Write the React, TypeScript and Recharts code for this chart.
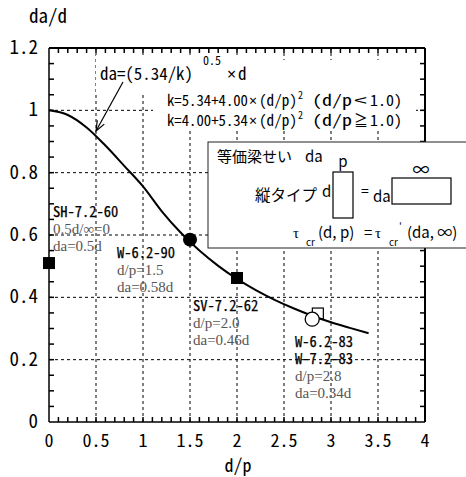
import React from 'react';
import { ComposedChart, Line, Scatter, XAxis, YAxis, ReferenceLine } from 'recharts';

// ---- data ----
const curveX = [0, 0.2, 0.4, 0.6, 0.8, 1.0, 1.2, 1.4, 1.6, 1.8, 2.0, 2.2, 2.4, 2.6, 2.8, 3.0, 3.2, 3.4];
const curveY = [1.0, 0.985, 0.945, 0.887, 0.822, 0.756, 0.676, 0.608, 0.55, 0.501, 0.459, 0.423, 0.392, 0.365, 0.341, 0.32, 0.302, 0.285];

const squareX = [0, 2.0];
const squareY = [0.51, 0.462];
const dotX = [1.5];
const dotY = [0.585];
const openSquareX = [2.86];
const openSquareY = [0.348];
const openCircleX = [2.8];
const openCircleY = [0.33];

const xMajor = [0, 0.5, 1, 1.5, 2, 2.5, 3, 3.5, 4];
const xLabels = ['0', '0.5', '1', '1.5', '2', '2.5', '3', '3.5', '4'];
const yMajor = [0, 0.2, 0.4, 0.6, 0.8, 1.0, 1.2];
const yLabels = ['0', '0.2', '0.4', '0.6', '0.8', '1', '1.2'];
const xGrid = [0.5, 1, 1.5, 2, 2.5, 3, 3.5];
const yGrid = [0.2, 0.4, 0.6, 0.8, 1.0];

// minor ticks every 0.1 on x, 0.05 on y
const xMinor: number[] = [];
for (let i = 1; i < 40; i++) xMinor.push(i / 10);
const yMinor: number[] = [];
for (let i = 1; i < 24; i++) yMinor.push(Math.round(i * 5) / 100);

const X_MIN = 0, X_MAX = 4, Y_MIN = 0, Y_MAX = 1.2;

const toPoints = (xs: number[], ys: number[]) => xs.map((x, i) => ({ x, y: ys[i] }));
const curveData = toPoints(curveX, curveY);
const bottomTicks = xMinor.map((x) => ({ x, y: Y_MIN }));
const topTicks = xMinor.map((x) => ({ x, y: Y_MAX }));
const leftTicks = yMinor.map((y) => ({ x: X_MIN, y }));
const rightTicks = yMinor.map((y) => ({ x: X_MAX, y }));

const GOTHIC = "'Noto Sans Mono CJK JP', 'Noto Sans CJK JP', 'DejaVu Sans Mono', monospace";
const PGOTHIC = "'Noto Sans CJK JP', 'Noto Sans', sans-serif";
const LATIN = "'Noto Sans', 'DejaVu Sans', sans-serif";
const MINCHO = "'Liberation Serif', 'DejaVu Serif', serif";

const near = (a: number, b: number) => Math.abs(a - b) < 1e-6;

const BottomTick = (p: any) => {
  const idx = xMajor.findIndex((m) => near(m, p.payload.value));
  if (idx < 0) return <g />;
  return (
    <text x={p.x} y={p.y + 25} textAnchor="middle" fontSize={18} fontFamily={GOTHIC} fill="#000">
      {xLabels[idx]}
    </text>
  );
};

const LeftTick = (p: any) => {
  const idx = yMajor.findIndex((m) => near(m, p.payload.value));
  if (idx < 0) return <g />;
  return (
    <text x={p.x - 11} y={p.y + 6} textAnchor="end" fontSize={19} fontFamily={GOTHIC} fill="#000">
      {yLabels[idx]}
    </text>
  );
};

// tick marks pointing into the plot
const TICK = 5;
const tickStyle = { stroke: '#000', strokeWidth: 1.5 };
const TickUp = (p: any) => <line x1={p.cx} y1={p.cy} x2={p.cx} y2={p.cy - TICK} {...tickStyle} />;
const TickDown = (p: any) => <line x1={p.cx} y1={p.cy} x2={p.cx} y2={p.cy + TICK} {...tickStyle} />;
const TickRight = (p: any) => <line x1={p.cx} y1={p.cy} x2={p.cx + TICK} y2={p.cy} {...tickStyle} />;
const TickLeft = (p: any) => <line x1={p.cx} y1={p.cy} x2={p.cx - TICK} y2={p.cy} {...tickStyle} />;

// a label block: specimen names in gothic, values in grey mincho
const LabelBlock = ({ x, y, gothic, mincho }: { x: number; y: number; gothic: string[]; mincho: string[] }) => (
  <text x={x} y={y}>
    {gothic.map((s, i) => (
      <tspan key={'g' + i} x={x} dy={i === 0 ? 0 : 17} fontSize={14.5} fontFamily={GOTHIC} fill="#000" stroke="#000" strokeWidth={0.25}>
        {s}
      </tspan>
    ))}
    {mincho.map((s, i) => (
      <tspan key={'m' + i} x={x} dy={i === 0 ? 16.5 : 17} fontSize={15} fontFamily={MINCHO} fill="#555">
        {s}
      </tspan>
    ))}
  </text>
);

const Overlay = () => (
  <svg width={466} height={477} style={{ position: 'absolute', left: 0, top: 0, pointerEvents: 'none' }}>
    {/* white backgrounds behind the formulas */}
    <rect x={96} y={55} width={156} height={37} fill="#fff" />
    <rect x={153} y={60} width={263} height={71} fill="#fff" />

    <text x={100} y={80} fontSize={17} fontFamily={GOTHIC} fill="#000" textLength={93} lengthAdjust="spacingAndGlyphs">da=(5.34/k)</text>
    <text x={203} y={65} fontSize={12} fontFamily={GOTHIC} fill="#000">0.5</text>
    <text x={227} y={80} fontSize={16} fontFamily={LATIN} fill="#000">×</text>
    <text x={238} y={80} fontSize={17} fontFamily={GOTHIC} fill="#000">d</text>

    <text x={167} y={106} fontSize={15} fontFamily={GOTHIC} fill="#000" textLength={81} lengthAdjust="spacingAndGlyphs">k=5.34+4.00</text>
    <text x={249} y={106} fontSize={14} fontFamily={LATIN} fill="#000">×</text>
    <text x={259} y={106} fontSize={15} fontFamily={GOTHIC} fill="#000" textLength={38} lengthAdjust="spacingAndGlyphs">(d/p)</text>
    <text x={298} y={99} fontSize={10} fontFamily={GOTHIC} fill="#000">2</text>
    <text x={312} y={106} fontSize={15} fontFamily={GOTHIC} fill="#000" textLength={40} lengthAdjust="spacingAndGlyphs">(d/p</text>
    <text x={354} y={106} fontSize={15} fontFamily={PGOTHIC} fill="#000" textLength={13} lengthAdjust="spacingAndGlyphs">&lt;</text>
    <text x={370} y={106} fontSize={15} fontFamily={GOTHIC} fill="#000" textLength={32} lengthAdjust="spacingAndGlyphs">1.0)</text>

    <text x={167} y={126} fontSize={15} fontFamily={GOTHIC} fill="#000" textLength={81} lengthAdjust="spacingAndGlyphs">k=4.00+5.34</text>
    <text x={249} y={126} fontSize={14} fontFamily={LATIN} fill="#000">×</text>
    <text x={259} y={126} fontSize={15} fontFamily={GOTHIC} fill="#000" textLength={38} lengthAdjust="spacingAndGlyphs">(d/p)</text>
    <text x={298} y={119} fontSize={10} fontFamily={GOTHIC} fill="#000">2</text>
    <text x={312} y={126} fontSize={15} fontFamily={GOTHIC} fill="#000" textLength={40} lengthAdjust="spacingAndGlyphs">(d/p</text>
    <text x={354} y={126} fontSize={15} fontFamily={PGOTHIC} fill="#000" textLength={14} lengthAdjust="spacingAndGlyphs">≧</text>
    <text x={370} y={126} fontSize={15} fontFamily={GOTHIC} fill="#000" textLength={32} lengthAdjust="spacingAndGlyphs">1.0)</text>

    {/* arrow to the curve */}
    <line x1={123} y1={82} x2={96} y2={131} stroke="#000" strokeWidth={1.2} />
    <polyline points="104.3,124.1 96,131 97.3,120.3" fill="none" stroke="#000" strokeWidth={1.2} />

    {/* equivalent depth box */}
    <rect x={208} y={142} width={262} height={106} fill="#fff" stroke="#222" strokeWidth={1} />
    <text x={217} y={162} fontSize={15} fontFamily={PGOTHIC} fill="#000">等価梁せい</text>
    <text x={305} y={162} fontSize={15} fontFamily={PGOTHIC} fill="#000">da</text>
    <text x={343} y={167} fontSize={15} fontFamily={PGOTHIC} fill="#000" textAnchor="middle">p</text>
    <rect x={333} y={172} width={20} height={46} fill="none" stroke="#000" strokeWidth={1.2} />
    <text x={255} y={201} fontSize={15.5} fontFamily={PGOTHIC} fill="#000">縦タイプ</text>
    <text x={322} y={197} fontSize={15} fontFamily={PGOTHIC} fill="#000">d</text>
    <text x={361} y={196} fontSize={14} fontFamily={PGOTHIC} fill="#000">=</text>
    <text x={373} y={202} fontSize={15} fontFamily={PGOTHIC} fill="#000">da</text>
    <text x={421} y={176} fontSize={17} fontFamily={PGOTHIC} fill="#000" textAnchor="middle">∞</text>
    <rect x={392} y={178} width={59} height={26} fill="none" stroke="#000" strokeWidth={1.2} />
    <text x={293} y={238} fontSize={15} fontFamily={MINCHO} fill="#000">τ</text>
    <text x={306} y={246} fontSize={10} fontFamily={PGOTHIC} fill="#000">cr</text>
    <text x={318} y={238} fontSize={15} fontFamily={PGOTHIC} fill="#000">(d, p)</text>
    <text x={364} y={238} fontSize={15} fontFamily={PGOTHIC} fill="#000">=</text>
    <text x={375} y={238} fontSize={15} fontFamily={MINCHO} fill="#000">τ</text>
    <text x={389} y={246} fontSize={10} fontFamily={PGOTHIC} fill="#000">cr</text>
    <text x={399} y={230} fontSize={10} fontFamily={PGOTHIC} fill="#000">'</text>
    <text x={407} y={238} fontSize={15} fontFamily={PGOTHIC} fill="#000">(da, ∞)</text>

    {/* axis titles */}
    <text x={29} y={23} fontSize={19} fontFamily={GOTHIC} fill="#000">da/d</text>
    <text x={238} y={472} fontSize={18} fontFamily={GOTHIC} fill="#000" textAnchor="middle">d/p</text>

    {/* specimen labels */}
    <LabelBlock x={53} y={217} gothic={['SH-7.2-60']} mincho={['0.5d/∞=0', 'da=0.5d']} />
    <LabelBlock x={117} y={258} gothic={['W-6.2-90']} mincho={['d/p=1.5', 'da=0.58d']} />
    <LabelBlock x={193} y={311} gothic={['SV-7.2-62']} mincho={['d/p=2.0', 'da=0.46d']} />
    <LabelBlock x={295} y={347} gothic={['W-6.2-83', 'W-7.2-83']} mincho={['d/p=2.8', 'da=0.34d']} />
  </svg>
);

const FilledSquare = (p: any) => <rect x={p.cx - 6} y={p.cy - 6} width={12} height={12} fill="#000" />;
const FilledCircle = (p: any) => <circle cx={p.cx} cy={p.cy} r={7} fill="#000" />;
const OpenSquare = (p: any) => (
  <rect x={p.cx - 5.5} y={p.cy - 5.5} width={11} height={11} fill="none" stroke="#000" strokeWidth={1.2} />
);
const OpenCircle = (p: any) => <circle cx={p.cx} cy={p.cy} r={7} fill="#fff" stroke="#000" strokeWidth={1.3} />;

export default function App() {
  return (
    <div style={{ position: 'absolute', left: 0, top: 0, width: 466, height: 477, background: '#fff' }}>
      <ComposedChart width={466} height={477} data={curveData} margin={{ top: 48, right: 41, bottom: 0, left: 0 }}>
        <XAxis
          dataKey="x"
          type="number"
          domain={[X_MIN, X_MAX]}
          ticks={xMajor}
          interval={0}
          height={55}
          tickSize={0}
          tickMargin={0}
          tickLine={false}
          tick={BottomTick}
          axisLine={{ stroke: '#000', strokeWidth: 1.5 }}
        />
        <YAxis
          dataKey="y"
          type="number"
          domain={[Y_MIN, Y_MAX]}
          ticks={yMajor}
          interval={0}
          width={49}
          tickSize={0}
          tickMargin={0}
          tickLine={false}
          tick={LeftTick}
          axisLine={{ stroke: '#000', strokeWidth: 1.5 }}
        />
        {xGrid.map((v) => (
          <ReferenceLine key={'gx' + v} x={v} stroke="#000" strokeWidth={1} strokeDasharray="3 3" />
        ))}
        {yGrid.map((v) => (
          <ReferenceLine key={'gy' + v} y={v} stroke="#000" strokeWidth={1} strokeDasharray="3 3" />
        ))}
        {/* frame: top and right edges */}
        <ReferenceLine y={Y_MAX} stroke="#000" strokeWidth={2} />
        <ReferenceLine x={X_MAX} stroke="#000" strokeWidth={2} />
        {/* inward minor ticks on all four sides */}
        <Scatter data={bottomTicks} dataKey="y" shape={TickUp} isAnimationActive={false} />
        <Scatter data={topTicks} dataKey="y" shape={TickDown} isAnimationActive={false} />
        <Scatter data={leftTicks} dataKey="y" shape={TickRight} isAnimationActive={false} />
        <Scatter data={rightTicks} dataKey="y" shape={TickLeft} isAnimationActive={false} />
        <Line dataKey="y" type="monotone" stroke="#000" strokeWidth={2} dot={false} isAnimationActive={false} />
        <Scatter data={toPoints(squareX, squareY)} dataKey="y" shape={FilledSquare} isAnimationActive={false} />
        <Scatter data={toPoints(dotX, dotY)} dataKey="y" shape={FilledCircle} isAnimationActive={false} />
        <Scatter data={toPoints(openSquareX, openSquareY)} dataKey="y" shape={OpenSquare} isAnimationActive={false} />
        <Scatter data={toPoints(openCircleX, openCircleY)} dataKey="y" shape={OpenCircle} isAnimationActive={false} />
      </ComposedChart>
      <Overlay />
    </div>
  );
}
